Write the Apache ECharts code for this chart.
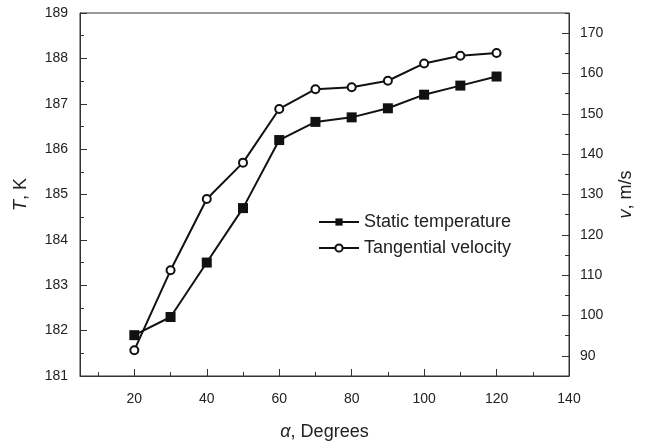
<!DOCTYPE html>
<html>
<head>
<meta charset="utf-8">
<script src="https://cdn.jsdelivr.net/npm/echarts@6/dist/echarts.min.js"></script>
<style>
  html, body { margin: 0; padding: 0; background: #fff; }
  #main { width: 648px; height: 446px; }
</style>
</head>
<body>
<div id="main"></div>
<script>
// data
var alpha = [20, 30, 40, 50, 60, 70, 80, 90, 100, 110, 120];
var temperature = [181.9, 182.3, 183.5, 184.7, 186.2, 186.6, 186.7, 186.9, 187.2, 187.4, 187.6];
var velocity = [91.4, 111.2, 128.9, 137.9, 151.2, 156.1, 156.6, 158.2, 162.5, 164.4, 165.1];

var xMajor = [20, 40, 60, 80, 100, 120];
var xLabels = [20, 40, 60, 80, 100, 120, 140];
var xMinor = [10, 30, 50, 70, 90, 110, 130];
var vMajor = [90, 100, 110, 120, 130, 140, 150, 160, 170];

var font = "'Liberation Sans', Arial, sans-serif";
var ink = "#222";
var axisGray = "#333";

var chart = echarts.init(document.getElementById("main"));

function pairs(ys) {
  return alpha.map(function (a, i) { return [a, ys[i]]; });
}

var option = {
  animation: false,
  backgroundColor: "#fff",
  textStyle: { fontFamily: font },
  grid: {
    left: 80, right: 79, top: 13, bottom: 70,
    show: true, borderColor: axisGray, borderWidth: 1
  },
  legend: {
    orient: "vertical",
    left: 313, top: 208,
    itemWidth: 40, itemHeight: 9, itemGap: 8,
    textStyle: { fontSize: 18, color: ink, fontFamily: font },
    data: ["Static temperature", "Tangential velocity"]
  },
  xAxis: [
    {
      type: "value", min: 5, max: 140,
      name: "{i|α}, Degrees", nameLocation: "middle", nameGap: 47,
      nameTextStyle: {
        fontSize: 18, color: ink, fontFamily: font,
        rich: { i: { fontStyle: "italic", fontSize: 18, color: ink, fontFamily: font } }
      },
      axisLine: { show: true, lineStyle: { color: axisGray, width: 1 } },
      axisTick: { show: true, inside: true, length: 7, customValues: xMajor, lineStyle: { color: axisGray } },
      axisLabel: {
        customValues: xLabels, fontSize: 14, color: ink, margin: 16, fontFamily: font,
        // the last label sits a little higher in the original
        formatter: function (v) { return v === 140 ? "{up|140}" : String(v); },
        rich: { up: { fontSize: 14, color: ink, fontFamily: font, padding: [0, 0, 5, 0] } }
      },
      splitLine: { show: false }
    },
    {
      // minor ticks only
      type: "value", min: 5, max: 140, position: "bottom",
      axisLine: { show: false },
      axisTick: { show: true, inside: true, length: 4, customValues: xMinor, lineStyle: { color: axisGray } },
      axisLabel: { show: false },
      splitLine: { show: false }
    }
  ],
  yAxis: [
    {
      type: "value", min: 181, max: 189, interval: 1, position: "left",
      name: "{i|T}, K", nameLocation: "middle", nameGap: 50, nameRotate: 90,
      nameTextStyle: {
        fontSize: 18, color: ink, fontFamily: font,
        rich: { i: { fontStyle: "italic", fontSize: 18, color: ink, fontFamily: font } }
      },
      axisLine: { show: true, lineStyle: { color: axisGray, width: 1 } },
      axisTick: { show: true, inside: true, length: 7, lineStyle: { color: axisGray } },
      minorTick: { show: true, splitNumber: 2, length: 4, lineStyle: { color: axisGray } },
      axisLabel: { fontSize: 14, color: ink, margin: 12, fontFamily: font },
      splitLine: { show: false }
    },
    {
      type: "value", min: 85, max: 175, position: "right",
      name: "{i|v}, m/s", nameLocation: "middle", nameGap: 48, nameRotate: 90,
      nameTextStyle: {
        fontSize: 18, color: ink, fontFamily: font,
        rich: { i: { fontStyle: "italic", fontSize: 18, color: ink, fontFamily: font } }
      },
      axisLine: { show: true, lineStyle: { color: axisGray, width: 1 } },
      axisTick: { show: true, inside: true, length: 7, customValues: vMajor, lineStyle: { color: axisGray } },
      axisLabel: { customValues: vMajor, fontSize: 14, color: ink, margin: 11, fontFamily: font },
      splitLine: { show: false }
    },
    {
      // minor ticks of the right axis
      type: "value", min: 85, max: 175, interval: 5, position: "right",
      axisLine: { show: false },
      axisTick: { show: true, inside: true, length: 4, lineStyle: { color: axisGray } },
      axisLabel: { show: false },
      splitLine: { show: false }
    }
  ],
  series: [
    {
      name: "Static temperature",
      type: "line",
      xAxisIndex: 0, yAxisIndex: 0,
      data: pairs(temperature),
      symbol: "rect", symbolSize: 10,
      color: "#111",
      lineStyle: { color: "#111", width: 2 },
      itemStyle: { color: "#111" },
      z: 3
    },
    {
      name: "Tangential velocity",
      type: "line",
      xAxisIndex: 0, yAxisIndex: 1,
      data: pairs(velocity),
      symbol: "emptyCircle", symbolSize: 8,
      color: "#111",
      lineStyle: { color: "#111", width: 2 },
      itemStyle: { color: "#111", borderColor: "#111", borderWidth: 2 },
      z: 4
    }
  ]
};

option && chart.setOption(option);
</script>
</body>
</html>
